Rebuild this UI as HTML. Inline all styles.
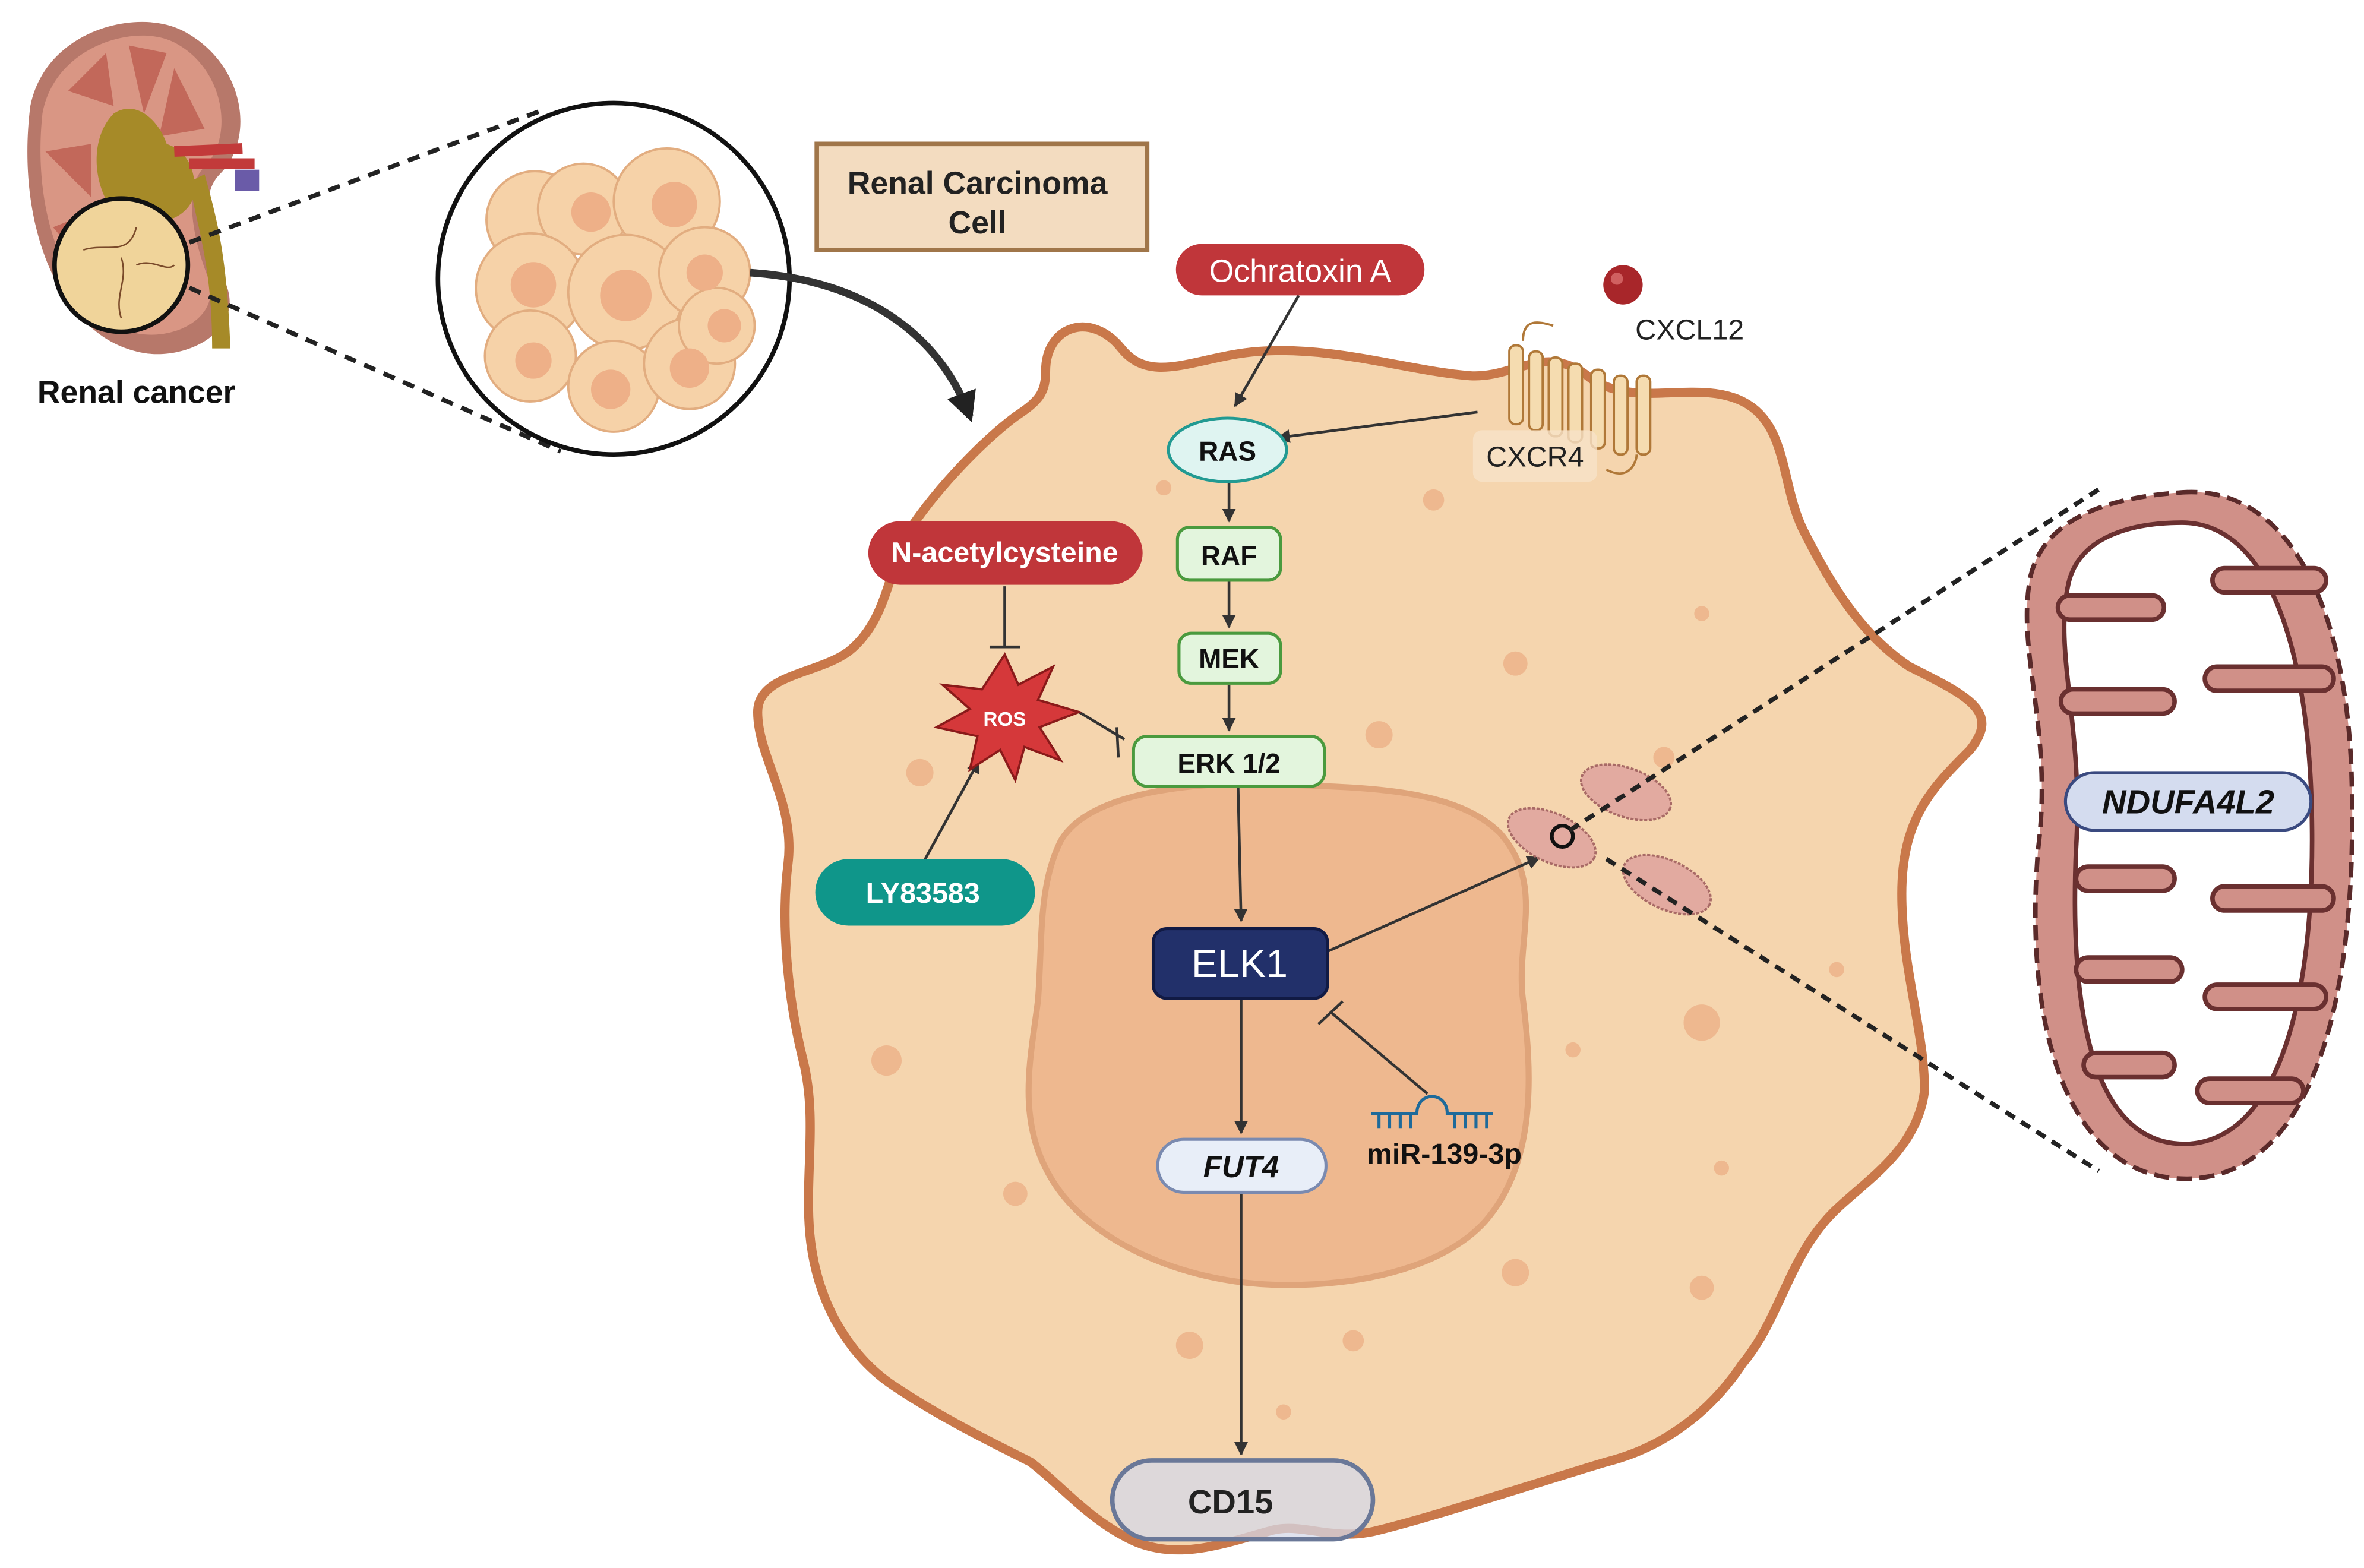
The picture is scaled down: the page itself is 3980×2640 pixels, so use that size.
<!DOCTYPE html>
<html><head><meta charset="utf-8"><style>
html,body{margin:0;padding:0;background:#fff;}
svg{display:block;}
text{font-family:"Liberation Sans",sans-serif;}
</style></head><body>
<svg width="3980" height="2640" viewBox="0 0 1560 1035" preserveAspectRatio="none" xmlns="http://www.w3.org/2000/svg">
<defs>
<marker id="ar" viewBox="0 0 10 10" refX="9" refY="5" markerWidth="5" markerHeight="5" orient="auto"><path d="M0,0L10,5L0,10z" fill="#333"/></marker>
<marker id="ar2" viewBox="0 0 10 10" refX="8" refY="5" markerWidth="4" markerHeight="4" orient="auto"><path d="M0,0L10,5L0,10z" fill="#222"/></marker>
</defs>
<rect width="1560" height="1035" fill="#fff"/>

<!-- kidney -->
<path d="M20,70 C30,20 90,5 120,20 C160,40 170,90 145,115 C130,130 140,160 150,190 C160,220 120,240 90,232 C40,220 10,150 20,70Z" fill="#b7786a"/>
<path d="M28,75 C36,30 90,15 115,28 C148,45 155,90 135,110 C120,125 128,160 138,185 C145,210 115,225 90,220 C50,210 20,150 28,75Z" fill="#d99684"/>
<path d="M45,60 L70,35 L75,70Z M85,30 L110,35 L95,75Z M115,45 L135,85 L105,90Z M30,100 L60,95 L60,130Z M35,150 L60,140 L60,180Z" fill="#c2685a"/>
<path d="M75,75 C90,65 105,80 110,95 C125,100 130,115 128,130 C120,150 95,150 75,140 C60,120 60,90 75,75Z" fill="#a68a28"/>
<path d="M125,120 C130,150 140,175 140,230 L152,230 C150,175 145,150 135,115Z" fill="#a68a28"/>
<path d="M115,100 L160,98 M125,108 L168,108" stroke="#c23a3a" stroke-width="7" fill="none"/>
<rect x="155" y="112" width="16" height="14" fill="#6a5ba8"/>
<circle cx="80" cy="175" r="44" fill="#f0d49a" stroke="#111" stroke-width="3"/>
<path d="M55,165 C70,160 85,170 90,150 M80,170 C85,185 75,195 80,210 M90,175 C100,170 110,180 115,175" stroke="#7a4a2a" stroke-width="1" fill="none"/>
<text x="90" y="266" font-size="21" font-weight="bold" text-anchor="middle" fill="#111">Renal  cancer</text>
<line x1="125" y1="160" x2="360" y2="72" stroke="#222" stroke-width="3" stroke-dasharray="8,6"/>
<line x1="125" y1="190" x2="370" y2="298" stroke="#222" stroke-width="3" stroke-dasharray="8,6"/>

<!-- big circle with cells -->
<circle cx="405" cy="184" r="116" fill="#fff" stroke="#111" stroke-width="3"/>
<g fill="#f6d2a8" stroke="#e2ad80" stroke-width="1.5">
<circle cx="353" cy="145" r="32"/><circle cx="385" cy="138" r="30"/><circle cx="440" cy="133" r="35"/>
<circle cx="350" cy="190" r="36"/><circle cx="413" cy="193" r="38"/><circle cx="465" cy="180" r="30"/>
<circle cx="350" cy="235" r="30"/><circle cx="405" cy="255" r="30"/><circle cx="455" cy="240" r="30"/><circle cx="473" cy="215" r="25"/>
</g>
<g fill="#eeb088">
<circle cx="352" cy="188" r="15"/><circle cx="413" cy="195" r="17"/><circle cx="445" cy="135" r="15"/><circle cx="390" cy="140" r="13"/><circle cx="352" cy="238" r="12"/><circle cx="403" cy="257" r="13"/><circle cx="455" cy="243" r="13"/><circle cx="465" cy="180" r="12"/><circle cx="478" cy="215" r="11"/>
</g>

<!-- title box -->
<rect x="539" y="95" width="218" height="70" fill="#f3dcc0" stroke="#a0764a" stroke-width="3"/>
<text x="645" y="128" font-size="21" font-weight="bold" text-anchor="middle" fill="#222">Renal Carcinoma</text>
<text x="645" y="154" font-size="21" font-weight="bold" text-anchor="middle" fill="#222">Cell</text>

<!-- curved arrow -->
<path d="M495,180 C570,185 620,220 640,275" stroke="#333" stroke-width="5" fill="none" marker-end="url(#ar2)"/>

<!-- cell -->
<path d="M690,245 C690,215 720,205 740,230 C760,255 790,235 830,232 C880,228 930,245 970,248 C1000,250 1020,225 1050,250 C1080,270 1120,250 1150,265 C1180,280 1175,320 1190,350 C1210,390 1230,420 1260,440 C1300,460 1320,470 1300,495 C1275,520 1255,540 1255,590 C1255,640 1270,680 1270,720 C1265,760 1230,780 1210,800 C1180,830 1175,870 1150,900 C1130,930 1100,955 1060,965 C1010,980 950,1000 910,1010 C880,1018 860,1005 840,1010 C810,1018 780,1030 750,1018 C720,1005 700,980 680,965 C650,950 620,935 590,915 C560,895 540,860 535,820 C530,780 540,740 530,700 C520,660 515,610 520,570 C525,530 500,500 500,470 C500,445 540,445 560,430 C585,410 585,380 600,350 C620,320 650,290 670,275 C685,265 690,260 690,245Z" fill="#f5d5ae" stroke="#c9784a" stroke-width="6"/>
<!-- nucleus -->
<path d="M700,555 C720,520 800,515 850,518 C900,520 960,520 990,550 C1020,585 1000,620 1005,660 C1010,700 1015,760 985,800 C960,835 900,850 840,848 C780,846 720,820 695,780 C670,740 680,700 685,660 C688,620 685,585 700,555Z" fill="#eeb88f" stroke="#dfa47a" stroke-width="4"/>
<g fill="#eeb88f">
<circle cx="768" cy="322" r="5"/><circle cx="946" cy="330" r="7"/><circle cx="1123" cy="405" r="5"/><circle cx="1000" cy="438" r="8"/><circle cx="910" cy="485" r="9"/><circle cx="607" cy="510" r="9"/><circle cx="1098" cy="500" r="7"/><circle cx="1212" cy="640" r="5"/><circle cx="1123" cy="675" r="12"/><circle cx="1038" cy="693" r="5"/><circle cx="1136" cy="771" r="5"/><circle cx="1000" cy="840" r="9"/><circle cx="1123" cy="850" r="8"/><circle cx="785" cy="888" r="9"/><circle cx="893" cy="885" r="7"/><circle cx="847" cy="932" r="5"/><circle cx="585" cy="700" r="10"/><circle cx="670" cy="788" r="8"/>
</g>

<!-- CXCR4 receptor -->
<g stroke="#b07838" stroke-width="1.5" fill="#f5dcb0">
<rect x="996" y="228" width="9" height="52" rx="4"/><rect x="1009" y="232" width="9" height="52" rx="4"/><rect x="1022" y="236" width="9" height="52" rx="4"/><rect x="1035" y="240" width="9" height="52" rx="4"/><rect x="1050" y="244" width="9" height="52" rx="4"/><rect x="1065" y="248" width="9" height="52" rx="4"/><rect x="1080" y="248" width="9" height="52" rx="4"/>
</g>
<path d="M1005,225 C1005,210 1015,212 1025,215 M1060,310 C1075,318 1080,305 1080,300" stroke="#b07838" stroke-width="1.5" fill="none"/>
<rect x="972" y="284" width="82" height="34" rx="6" fill="#f7e2c8" opacity="0.8"/>
<text x="1013" y="308" font-size="19" text-anchor="middle" fill="#222">CXCR4</text>
<circle cx="1071" cy="188" r="13" fill="#a8262a"/>
<circle cx="1067" cy="184" r="4" fill="#d06060"/>
<text x="1115" y="224" font-size="19" text-anchor="middle" fill="#222">CXCL12</text>

<!-- connectors -->
<g stroke="#333" stroke-width="1.8" fill="none">
<line x1="857" y1="195" x2="815" y2="268" marker-end="url(#ar)"/>
<line x1="975" y1="272" x2="843" y2="289" marker-end="url(#ar)"/>
<line x1="811" y1="317" x2="811" y2="344" marker-end="url(#ar)"/>
<line x1="811" y1="384" x2="811" y2="414" marker-end="url(#ar)"/>
<line x1="811" y1="452" x2="811" y2="482" marker-end="url(#ar)"/>
<line x1="817" y1="520" x2="819" y2="608" marker-end="url(#ar)"/>
<line x1="819" y1="658" x2="819" y2="748" marker-end="url(#ar)"/>
<line x1="819" y1="787" x2="819" y2="960" marker-end="url(#ar)"/>
<line x1="876" y1="628" x2="1016" y2="566" marker-end="url(#ar)"/>
<line x1="610" y1="568" x2="646" y2="502" marker-end="url(#ar)"/>
<line x1="663" y1="387" x2="663" y2="427"/>
<line x1="653" y1="427" x2="673" y2="427"/>
<line x1="712" y1="470" x2="742" y2="488"/>
<line x1="737" y1="480" x2="738" y2="500"/>
<line x1="942" y1="722" x2="878" y2="668"/>
<line x1="870" y1="676" x2="886" y2="661"/>
</g>

<!-- nodes -->
<rect x="776" y="161" width="164" height="34" rx="17" fill="#c0363a"/>
<text x="858" y="186" font-size="21" text-anchor="middle" fill="#fff">Ochratoxin A</text>
<ellipse cx="810" cy="297" rx="39" ry="21" fill="#dff4f1" stroke="#229a92" stroke-width="2"/>
<text x="810" y="304" font-size="18" font-weight="bold" text-anchor="middle" fill="#111">RAS</text>
<rect x="777" y="348" width="68" height="35" rx="8" fill="#e3f5dd" stroke="#4a9a3e" stroke-width="2"/>
<text x="811" y="373" font-size="18" font-weight="bold" text-anchor="middle" fill="#111">RAF</text>
<rect x="778" y="418" width="67" height="33" rx="8" fill="#e3f5dd" stroke="#4a9a3e" stroke-width="2"/>
<text x="811" y="441" font-size="18" font-weight="bold" text-anchor="middle" fill="#111">MEK</text>
<rect x="748" y="486" width="126" height="33" rx="9" fill="#e3f5dd" stroke="#4a9a3e" stroke-width="2"/>
<text x="811" y="510" font-size="18" font-weight="bold" text-anchor="middle" fill="#111">ERK 1/2</text>
<rect x="761" y="613" width="115" height="46" rx="9" fill="#22306a" stroke="#111a44" stroke-width="2"/>
<text x="818" y="645" font-size="26" text-anchor="middle" fill="#fff">ELK1</text>
<rect x="764" y="752" width="111" height="35" rx="17" fill="#e8eef8" stroke="#7a8ab0" stroke-width="2"/>
<text x="819" y="777" font-size="20" font-weight="bold" font-style="italic" text-anchor="middle" fill="#111">FUT4</text>
<rect x="734" y="964" width="172" height="52" rx="26" fill="#d4d8e8" fill-opacity="0.75" stroke="#6a7898" stroke-width="3"/>
<text x="812" y="999" font-size="22" font-weight="bold" text-anchor="middle" fill="#222">CD15</text>

<rect x="573" y="344" width="181" height="42" rx="21" fill="#c0363a"/>
<text x="663" y="371" font-size="19" font-weight="bold" text-anchor="middle" fill="#fff">N-acetylcysteine</text>
<path d="M663,432 L672,452 L695,440 L685,462 L712,470 L686,480 L700,502 L676,493 L670,515 L660,495 L640,508 L645,486 L618,480 L640,468 L622,452 L648,455Z" fill="#d5383a" stroke="#8a1a1a" stroke-width="1.5"/>
<text x="663" y="479" font-size="13" font-weight="bold" text-anchor="middle" fill="#fff">ROS</text>
<rect x="538" y="567" width="145" height="44" rx="22" fill="#0f968a"/>
<text x="609" y="596" font-size="19" font-weight="bold" text-anchor="middle" fill="#fff">LY83583</text>

<!-- miRNA -->
<g stroke="#1e6a9a" stroke-width="2" fill="none">
<path d="M905,735 L935,735 C935,720 955,720 955,735 L985,735"/>
<path d="M910,735v10M917,735v10M924,735v10M931,735v10M960,735v10M967,735v10M974,735v10M981,735v10"/>
</g>
<text x="953" y="768" font-size="19" font-weight="bold" text-anchor="middle" fill="#111">miR-139-3p</text>

<!-- small mitochondria -->
<g fill="#e2aaa0" stroke="#a86a66" stroke-width="1.5" stroke-dasharray="2,1">
<ellipse cx="1073" cy="523" rx="31" ry="16" transform="rotate(20 1073 523)"/>
<ellipse cx="1024" cy="553" rx="31" ry="16" transform="rotate(25 1024 553)"/>
<ellipse cx="1100" cy="584" rx="31" ry="16" transform="rotate(25 1100 584)"/>
</g>
<circle cx="1031" cy="552" r="7" fill="none" stroke="#111" stroke-width="2.5"/>
<line x1="1036" y1="548" x2="1385" y2="323" stroke="#222" stroke-width="3" stroke-dasharray="7,5"/>
<line x1="1060" y1="567" x2="1385" y2="773" stroke="#222" stroke-width="3" stroke-dasharray="7,5"/>

<!-- large mitochondrion -->
<path d="M1440,325 C1510,320 1550,400 1552,520 C1555,650 1530,775 1445,778 C1365,780 1335,680 1345,560 C1355,480 1330,430 1340,380 C1350,340 1395,328 1440,325Z" fill="#d09088" stroke="#5a2a2a" stroke-width="3" stroke-dasharray="10,5"/>
<path d="M1440,345 C1490,345 1520,410 1525,520 C1530,640 1510,750 1445,755 C1385,758 1365,680 1370,560 C1375,480 1355,430 1365,385 C1372,355 1405,345 1440,345Z" fill="#fff" stroke="#6a3030" stroke-width="3"/>
<g fill="#d09088" stroke="#6a3030" stroke-width="3">
<rect x="1358" y="393" width="70" height="16" rx="8"/><rect x="1360" y="455" width="75" height="16" rx="8"/><rect x="1370" y="572" width="65" height="16" rx="8"/><rect x="1370" y="632" width="70" height="16" rx="8"/><rect x="1375" y="695" width="60" height="16" rx="8"/>
<rect x="1460" y="375" width="75" height="16" rx="8"/><rect x="1455" y="440" width="85" height="16" rx="8"/><rect x="1460" y="585" width="80" height="16" rx="8"/><rect x="1455" y="650" width="80" height="16" rx="8"/><rect x="1450" y="712" width="70" height="16" rx="8"/>
</g>
<rect x="1363" y="510" width="162" height="38" rx="19" fill="#d4dcef" stroke="#3a4a80" stroke-width="2"/>
<text x="1444" y="537" font-size="22" font-weight="bold" font-style="italic" text-anchor="middle" fill="#111">NDUFA4L2</text>
</svg>
</body></html>
